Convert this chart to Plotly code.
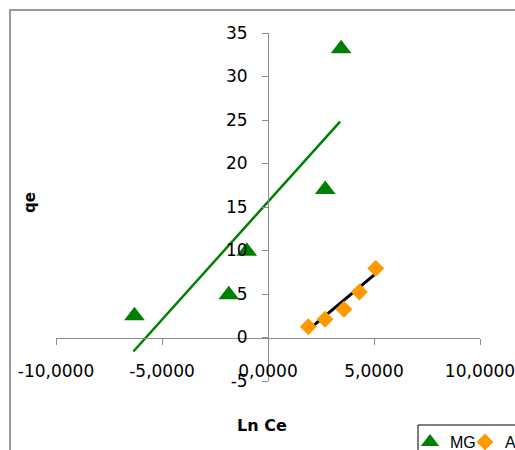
import plotly.graph_objects as go

# ---- data ----
mg_x = [-6.3, -1.85, -1.0, 2.7, 3.45]
mg_y = [2.5, 4.9, 9.9, 17.0, 33.2]
ab_x = [1.9, 2.69, 3.58, 4.31, 5.08]
ab_y = [1.24, 2.09, 3.24, 5.23, 7.95]

# linear trendlines (slope, intercept)
mg_trend = (2.71, 15.6)
ab_trend = (2.03, -2.98)
mg_trend_x = [-6.35, 3.4]
ab_trend_x = [1.93, 5.01]

x_tickvals = [-10, -5, 0, 5, 10]
x_ticktext = ["-10,0000", "-5,0000", "0,0000", "5,0000", "10,0000"]
y_tickvals = [-5, 0, 5, 10, 15, 20, 25, 30, 35]
y_ticktext = ["-5", "0", "5", "10", "15", "20", "25", "30", "35"]

GREEN = "#008000"
ORANGE = "#FF9900"
AXIS = "#8c8c8c"

fig = go.Figure()

fig.add_trace(go.Scatter(
    x=mg_trend_x, y=[mg_trend[0] * v + mg_trend[1] for v in mg_trend_x],
    mode="lines", line=dict(color=GREEN, width=2.5), showlegend=False,
    hoverinfo="skip"))
fig.add_trace(go.Scatter(
    x=ab_trend_x, y=[ab_trend[0] * v + ab_trend[1] for v in ab_trend_x],
    mode="lines", line=dict(color="black", width=3), showlegend=False,
    hoverinfo="skip"))

fig.add_trace(go.Scatter(
    x=mg_x, y=mg_y, mode="markers", name="MG",
    marker=dict(symbol="triangle-up", size=18, color=GREEN)))
fig.add_trace(go.Scatter(
    x=ab_x, y=ab_y, mode="markers", name="AB",
    marker=dict(symbol="diamond", size=13, color=ORANGE)))

tickfont = dict(family="DejaVu Sans", size=17, color="black")

fig.update_layout(
    width=515, height=450,
    margin=dict(l=56, r=35, t=33, b=69, autoexpand=False),
    paper_bgcolor="white", plot_bgcolor="white",
    xaxis=dict(
        range=[-10, 10], tickmode="array", tickvals=x_tickvals,
        ticktext=x_ticktext, showgrid=False, zeroline=False,
        showline=True, linecolor=AXIS, linewidth=1,
        ticks="outside", ticklen=6, tickcolor=AXIS, tickwidth=1,
        anchor="free", position=0.125, tickfont=tickfont,
        ticklabelstandoff=12, ticklabeloverflow="allow"),
    yaxis=dict(
        range=[-5, 35], tickmode="array", tickvals=y_tickvals,
        ticktext=y_ticktext, showgrid=False, zeroline=False,
        showline=True, linecolor=AXIS, linewidth=1,
        ticks="outside", ticklen=6, tickcolor=AXIS, tickwidth=1,
        anchor="free", position=0.5, tickfont=tickfont,
        ticklabelstandoff=11, ticklabeloverflow="allow"),
    legend=dict(
        orientation="h", x=0.8349, y=-0.1264, xanchor="left", yanchor="top",
        borderwidth=0, bgcolor="rgba(0,0,0,0)",
        font=dict(family="Liberation Sans", size=16, color="black"),
        itemwidth=30, entrywidth=10, tracegroupgap=0),
    annotations=[
        dict(text="<b>Ln Ce</b>", xref="paper", yref="paper", x=0.486,
             y=-0.129, xanchor="center", yanchor="middle", showarrow=False,
             font=dict(family="DejaVu Sans", size=16, color="black")),
        dict(text="<b>qe</b>", xref="paper", yref="paper", x=-0.0613,
             y=0.5115, xanchor="center", yanchor="middle", showarrow=False,
             textangle=-90,
             font=dict(family="DejaVu Sans", size=15, color="black")),
    ],
    shapes=[
        dict(type="rect", xref="paper", yref="paper",
             x0=-0.1085, y0=-0.5, x1=1.5, y1=1.066,
             line=dict(color="#999999", width=2), layer="below"),
        dict(type="rect", xref="paper", yref="paper",
             x0=0.8538, y0=-0.5, x1=1.5, y1=-0.1264,
             line=dict(color="black", width=1), fillcolor="white",
             layer="below"),
    ],
    showlegend=True,
)

fig.write_html("out.html")
